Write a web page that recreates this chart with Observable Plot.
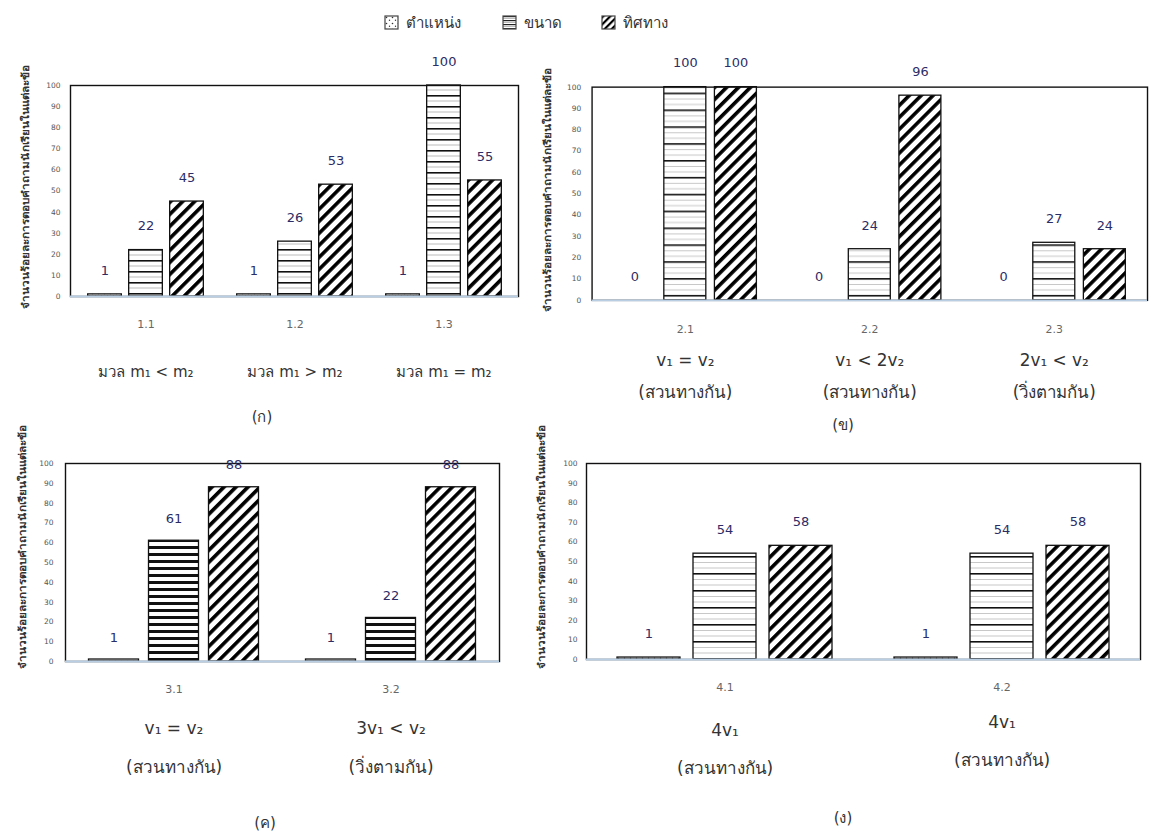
<!DOCTYPE html>
<html>
<head>
<meta charset="utf-8">
<script src="https://cdn.jsdelivr.net/npm/d3@7"></script>
<script src="https://cdn.jsdelivr.net/npm/@observablehq/plot@0.6"></script>
<style>
  html, body { margin: 0; padding: 0; background: #fff; }
  body { width: 1150px; height: 838px; position: relative; overflow: hidden;
         font-family: Tahoma, "DejaVu Sans", "Noto Sans", sans-serif; }
  .pnl { position: absolute; }
  .ylab { position: absolute; white-space: nowrap; font-size: 10px; font-weight: bold; color: #333;
          transform: translate(-50%, -50%) rotate(-90deg) scaleX(1.17); }
  .cap { position: absolute; transform: translate(-50%, -50%); font-size: 15px; color: #333; }
  .leg { position: absolute; top: 6px; }
  .leg svg rect { stroke: #444; stroke-width: 1.2; }
</style>
</head>
<body>
<svg width="0" height="0" style="position:absolute">
  <defs>
    <pattern id="pPos" patternUnits="userSpaceOnUse" width="6" height="6">
      <rect width="6" height="6" fill="#fff"/>
      <circle cx="1.5" cy="1.5" r="0.8" fill="#333"/>
      <circle cx="4.5" cy="4.2" r="0.7" fill="#333"/>
    </pattern>
    <pattern id="pSize0" patternUnits="userSpaceOnUse" width="10" height="4">
      <rect width="10" height="4" fill="#fff"/>
      <rect y="0" width="10" height="1.2" fill="#222"/>
      <rect y="2.2" width="10" height="0.8" fill="#aaa"/>
    </pattern>
    <pattern id="pSize1" patternUnits="userSpaceOnUse" width="10" height="11">
      <rect width="10" height="11" fill="#fff"/>
      <rect y="0" width="10" height="1.6" fill="#111"/>
      <rect y="5.5" width="10" height="1" fill="#bbb"/>
    </pattern>
    <pattern id="pSize2" patternUnits="userSpaceOnUse" width="10" height="17">
      <rect width="10" height="17" fill="#fff"/>
      <rect y="0" width="10" height="1.6" fill="#111"/>
      <rect y="6" width="10" height="1" fill="#c8c8c8"/>
      <rect y="11.5" width="10" height="1" fill="#c8c8c8"/>
    </pattern>
    <pattern id="pSize3" patternUnits="userSpaceOnUse" width="10" height="7">
      <rect width="10" height="7" fill="#fff"/>
      <rect y="0" width="10" height="3" fill="#111"/>
    </pattern>
    <pattern id="pSize4" patternUnits="userSpaceOnUse" width="10" height="17">
      <rect width="10" height="17" fill="#fff"/>
      <rect y="0" width="10" height="1.6" fill="#111"/>
      <rect y="6" width="10" height="1" fill="#c8c8c8"/>
      <rect y="11.5" width="10" height="1" fill="#c8c8c8"/>
    </pattern>
    <pattern id="pDir" patternUnits="userSpaceOnUse" width="8.5" height="10" patternTransform="rotate(45)">
      <rect width="8.5" height="10" fill="#fff"/>
      <rect x="0" y="0" width="3.6" height="10" fill="#000"/>
    </pattern>
    <pattern id="pDirL" patternUnits="userSpaceOnUse" width="5" height="10" patternTransform="rotate(45)">
      <rect width="5" height="10" fill="#fff"/>
      <rect x="0" y="0" width="2.2" height="10" fill="#000"/>
    </pattern>
  </defs>
</svg>
<script>
// ---------- data ----------
const seriesNames = ["ตำแหน่ง", "ขนาด", "ทิศทาง"];
const yTicks = [0, 10, 20, 30, 40, 50, 60, 70, 80, 90, 100];
const yLabel = "จำนวนร้อยละการตอบคำถามนักเรียนในแต่ละข้อ";

// panel (ก)
const groupsA = ["1.1", "1.2", "1.3"];
const condA = ["มวล m₁ < m₂", "มวล m₁ > m₂", "มวล m₁ = m₂"];
const positionA = [1, 1, 1];
const sizeA = [22, 26, 100];
const directionA = [45, 53, 55];

// panel (ข)
const groupsB = ["2.1", "2.2", "2.3"];
const condB1 = ["v₁ = v₂", "v₁ < 2v₂", "2v₁ < v₂"];
const condB2 = ["(สวนทางกัน)", "(สวนทางกัน)", "(วิ่งตามกัน)"];
const positionB = [0, 0, 0];
const sizeB = [100, 24, 27];
const directionB = [100, 96, 24];

// panel (ค)
const groupsC = ["3.1", "3.2"];
const condC1 = ["v₁ = v₂", "3v₁ < v₂"];
const condC2 = ["(สวนทางกัน)", "(วิ่งตามกัน)"];
const positionC = [1, 1];
const sizeC = [61, 22];
const directionC = [88, 88];

// panel (ง)
const groupsD = ["4.1", "4.2"];
const condD1 = ["4v₁", "4v₁"];
const condD2 = ["(สวนทางกัน)", "(สวนทางกัน)"];
const positionD = [1, 1];
const sizeD = [54, 54];
const directionD = [58, 58];

const captions = ["(ก)", "(ข)", "(ค)", "(ง)"];

// ---------- helpers ----------
const FONT = 'Tahoma, "DejaVu Sans", "Noto Sans", sans-serif';
function rows(groups, pos, size, dir) {
  const vals = [pos, size, dir];
  return groups.flatMap((g, i) => seriesNames.map((s, j) => ({group: g, series: s, value: vals[j][i]})));
}

function panel(cfg) {
  const data = rows(cfg.groups, cfg.pos, cfg.size, cfg.dir);
  const frameW = cfg.width - cfg.marginLeft - cfg.marginRight;
  const bw = frameW / cfg.groups.length;
  const ins = (bw - cfg.barW) / 2;
  const marks = [];
  seriesNames.forEach((s, j) => {
    const sub = data.filter(d => d.series === s);
    marks.push(Plot.barY(sub, {x: "group", y: "value", fill: "series", stroke: "#111", strokeWidth: 1.3,
      insetLeft: ins, insetRight: ins, dx: (j - 1) * cfg.step}));
  });
  marks.push(Plot.frame({stroke: "#111", strokeWidth: 1.4}));
  marks.push(Plot.ruleY([0], {stroke: "#b9cde3", strokeWidth: 2}));
  seriesNames.forEach((s, j) => {
    const sub = data.filter(d => d.series === s);
    marks.push(Plot.text(sub, {x: "group", y: "value", text: d => String(d.value), dx: (j - 1) * cfg.step,
      dy: cfg.labelDy, fill: "#2c2c66", fontSize: 13, fontFamily: FONT}));
  });
  marks.push(Plot.axisY({ticks: yTicks, tickSize: 0, tickPadding: cfg.yPad, fontSize: 7.5, fill: "#555", label: null}));
  marks.push(Plot.axisX({tickSize: 0, tickPadding: cfg.numPad, fontSize: 11, fill: "#666", label: null, fontFamily: FONT}));
  cfg.lines.forEach(L => {
    marks.push(Plot.axisX({ticks: L.ticks || cfg.groups, tickSize: 0, tickPadding: L.pad, fontSize: L.fs,
      fill: "#333", label: null, fontFamily: FONT,
      tickFormat: g => L.text[cfg.groups.indexOf(g)]}));
  });
  const p = Plot.plot({
    width: cfg.width, height: cfg.height,
    marginLeft: cfg.marginLeft, marginRight: cfg.marginRight, marginTop: cfg.marginTop, marginBottom: cfg.marginBottom,
    style: {fontFamily: FONT, background: "transparent", overflow: "visible"},
    x: {domain: cfg.groups, padding: 0},
    y: {domain: [0, 100]},
    color: {domain: seriesNames, range: ["url(#pPos)", `url(#${cfg.sizePattern})`, "url(#pDir)"]},
    marks
  });
  const div = document.createElement("div");
  div.className = "pnl";
  div.style.left = cfg.left + "px";
  div.style.top = cfg.top + "px";
  div.appendChild(p);
  document.body.appendChild(div);

  const yl = document.createElement("div");
  yl.className = "ylab";
  yl.textContent = yLabel;
  yl.style.left = cfg.ylabX + "px";
  yl.style.top = cfg.ylabY + "px";
  document.body.appendChild(yl);

  const cap = document.createElement("div");
  cap.className = "cap";
  cap.textContent = cfg.caption;
  cap.style.left = cfg.capX + "px";
  cap.style.top = cfg.capY + "px";
  document.body.appendChild(cap);
}

// ---------- panels ----------
panel({groups: groupsA, pos: positionA, size: sizeA, dir: directionA, sizePattern: "pSize1",
  left: 0, top: 40, width: 530, height: 356, marginLeft: 70, marginRight: 12, marginTop: 45, marginBottom: 100,
  barW: 34, step: 41, labelDy: -24, yPad: 10, numPad: 24,
  lines: [{text: condA, pad: 70, fs: 15}],
  ylabX: 25, ylabY: 187, caption: captions[0], capX: 262, capY: 417});

panel({groups: groupsB, pos: positionB, size: sizeB, dir: directionB, sizePattern: "pSize2",
  left: 540, top: 42, width: 615, height: 370, marginLeft: 52, marginRight: 3, marginTop: 45, marginBottom: 110,
  barW: 43, step: 51, labelDy: -24, yPad: 11, numPad: 25,
  lines: [{text: condB1, pad: 54, fs: 17}, {text: condB2, pad: 86, fs: 17}],
  ylabX: 547, ylabY: 190, caption: captions[1], capX: 843, capY: 425});

panel({groups: groupsC, pos: positionC, size: sizeC, dir: directionC, sizePattern: "pSize3",
  left: 0, top: 420, width: 510, height: 366, marginLeft: 65, marginRight: 11, marginTop: 43, marginBottom: 125,
  barW: 50, step: 60, labelDy: -22, yPad: 12, numPad: 24,
  lines: [{text: condC1, pad: 60, fs: 17}, {text: condC2, pad: 99, fs: 17}],
  ylabX: 22, ylabY: 547, caption: captions[2], capX: 265, capY: 823});

panel({groups: groupsD, pos: positionD, size: sizeD, dir: directionD, sizePattern: "pSize4",
  left: 540, top: 420, width: 610, height: 364, marginLeft: 46, marginRight: 10, marginTop: 43, marginBottom: 125,
  barW: 63, step: 76, labelDy: -24, yPad: 9, numPad: 24,
  lines: [{ticks: ["4.1"], text: condD1, pad: 64, fs: 17}, {ticks: ["4.1"], text: condD2, pad: 102, fs: 17},
          {ticks: ["4.2"], text: condD1, pad: 56, fs: 17}, {ticks: ["4.2"], text: condD2, pad: 94, fs: 17}],
  ylabX: 541, ylabY: 547, caption: captions[3], capX: 843, capY: 818});

// ---------- legend (one swatch entry per series) ----------
const legendRange = ["url(#pPos)", "url(#pSize0)", "url(#pDirL)"];
const legendX = [385, 503, 602];
seriesNames.forEach((s, i) => {
  const holder = document.createElement("div");
  holder.className = "leg";
  holder.style.left = legendX[i] + "px";
  holder.appendChild(Plot.legend({
    color: {type: "ordinal", domain: [s], range: [legendRange[i]]},
    legend: "swatches", swatchSize: 13,
    style: {fontSize: "15px", fontFamily: FONT, color: "#333"}
  }));
  document.body.appendChild(holder);
});
</script>
</body>
</html>
